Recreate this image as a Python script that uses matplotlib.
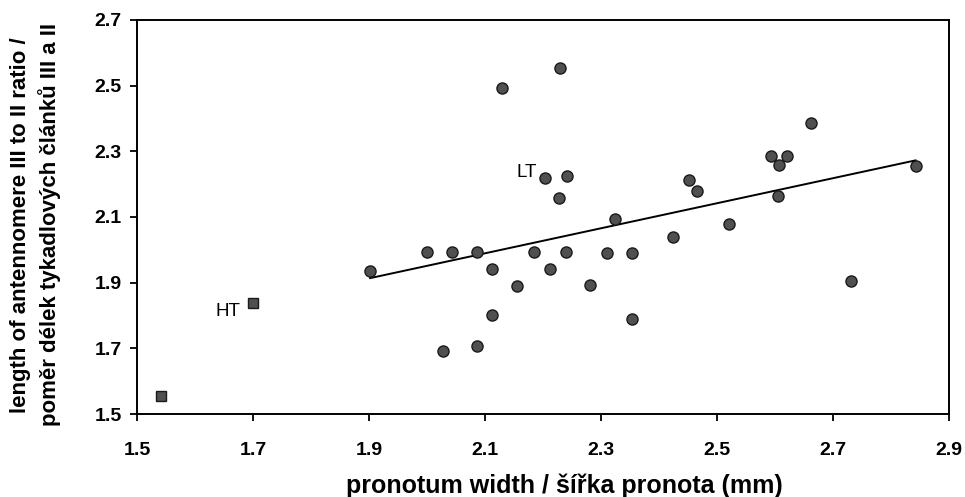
import numpy as np
import matplotlib
matplotlib.use('Agg')
import matplotlib.pyplot as plt

plt.rcParams['font.family'] = ['Liberation Sans', 'DejaVu Sans']

# circles: pronotum width vs antennomere III/II ratio
width = [1.902, 2.001, 2.043, 2.086, 2.112, 2.155, 2.113, 2.028, 2.086, 2.130,
         2.229, 2.203, 2.242, 2.228, 2.184, 2.240, 2.212, 2.311, 2.282, 2.325,
         2.353, 2.353, 2.424, 2.452, 2.466, 2.522, 2.593, 2.607, 2.621, 2.606,
         2.662, 2.731, 2.843]
ratio = [1.936, 1.993, 1.993, 1.993, 1.940, 1.890, 1.802, 1.693, 1.706, 2.492,
         2.552, 2.220, 2.226, 2.157, 1.993, 1.993, 1.943, 1.990, 1.894, 2.094,
         1.989, 1.789, 2.038, 2.211, 2.178, 2.077, 2.287, 2.259, 2.286, 2.165,
         2.385, 1.906, 2.256]
# squares: type specimens
type_width = [1.541, 1.700]
type_ratio = [1.555, 1.838]

fig = plt.figure(figsize=(9.65, 4.97), dpi=100)
ax = fig.add_axes([0.142, 0.167, 0.841, 0.793])

ax.plot(width, ratio, 'o', ms=8, mfc='#505050', mec='#1a1a1a', mew=1, zorder=3)
ax.plot(type_width, type_ratio, 's', ms=7, mfc='#505050', mec='#1a1a1a', mew=1, zorder=3)

k, q = np.polyfit(width, ratio, 1)
xs = np.array([min(width), max(width)])
ax.plot(xs, k * xs + q, color='black', lw=1.4, zorder=2)

ax.text(2.19, 2.234, 'LT', fontsize=13.5, ha='right', va='center')
ax.text(1.678, 1.811, 'HT', fontsize=13.5, ha='right', va='center')

ax.set_xlim(1.5, 2.9)
ax.set_ylim(1.5, 2.7)
ax.set_xticks(np.arange(1.5, 2.91, 0.2))
ax.set_yticks(np.arange(1.5, 2.71, 0.2))
ax.set_xticklabels(['1.5', '1.7', '1.9', '2.1', '2.3', '2.5', '2.7', '2.9'])
ax.set_yticklabels(['1.5', '1.7', '1.9', '2.1', '2.3', '2.5', '2.7'])
ax.tick_params(direction='out', length=5, width=1.3, labelsize=14)
ax.tick_params(axis='x', pad=15)
ax.tick_params(axis='y', pad=6)
for lab in ax.get_xticklabels() + ax.get_yticklabels():
    lab.set_fontweight('bold')
for s in ax.spines.values():
    s.set_linewidth(1.4)

ax.set_xlabel('pronotum width / šířka pronota (mm)', fontsize=18, fontweight='bold',
              va='baseline')
ax.set_ylabel('length of antennomere III to II ratio /\npoměr délek tykadlových článků III a II',
              fontsize=16, fontweight='bold', linespacing=1.35)
ax.xaxis.set_label_coords(0.526, -0.2)
ax.yaxis.set_label_coords(-0.094, 0.48)

fig.savefig('out.png', dpi=100)
